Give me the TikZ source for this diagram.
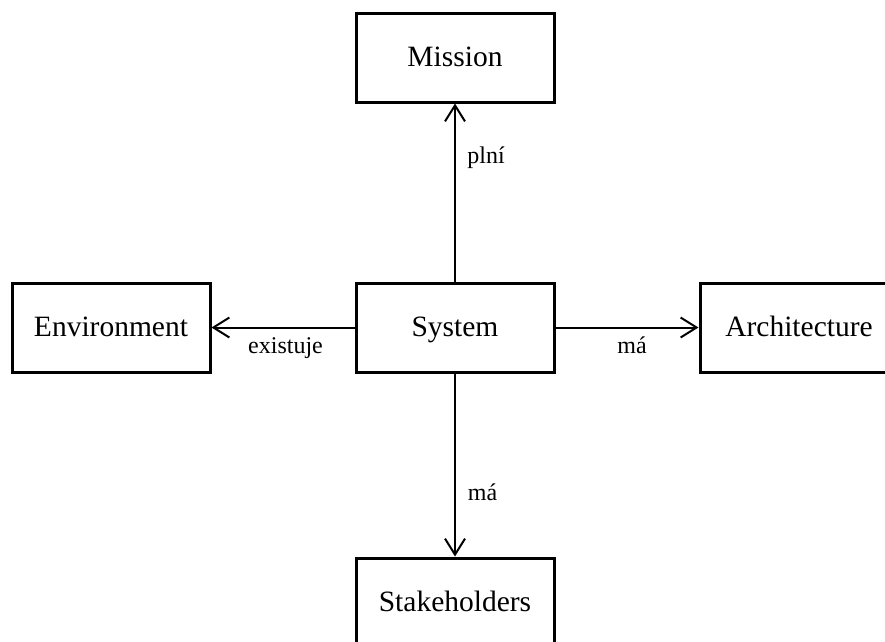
\documentclass[tikz,border=0pt]{standalone}
\usepackage{fontspec}
\setmainfont{Liberation Serif}
\usetikzlibrary{arrows.meta}
\tikzset{
  box/.style={draw, line width=3pt, minimum width=198pt, minimum height=89pt,
    inner sep=0pt, text height=20pt, text depth=3pt,
    font=\fontsize{29.5}{34}\selectfont},
  arr/.style={line width=2pt, -{Straight Barb[length=16pt,width=20pt]}},
  lbl/.style={anchor=base, inner sep=0pt, font=\fontsize{24}{28}\selectfont}
}
\begin{document}
\begin{tikzpicture}[x=1pt,y=-1pt]
\useasboundingbox (0,0) rectangle (885,641);
\node[box] (mis) at (455,57.5) {Mission};
\node[box] (sys) at (455,327.5) {System};
\node[box] (env) at (111,327.5) {Environment};
\node[box] (arc) at (799,327.5) {Architecture};
\node[box] (stk) at (455,602.5) {Stakeholders};
\draw[arr] (sys.north) -- (mis.south);
\draw[arr] (sys.south) -- (stk.north);
\draw[arr] (sys.west) -- (env.east);
\draw[arr] (sys.east) -- (arc.west);
\node[lbl] (l1) at (486,163) {plní};
\node[lbl] (l2) at (482.5,500) {má};
\node[lbl] (l3) at (285.5,353) {existuje};
\node[lbl] (l4) at (632,353) {má};
\end{tikzpicture}
\end{document}
